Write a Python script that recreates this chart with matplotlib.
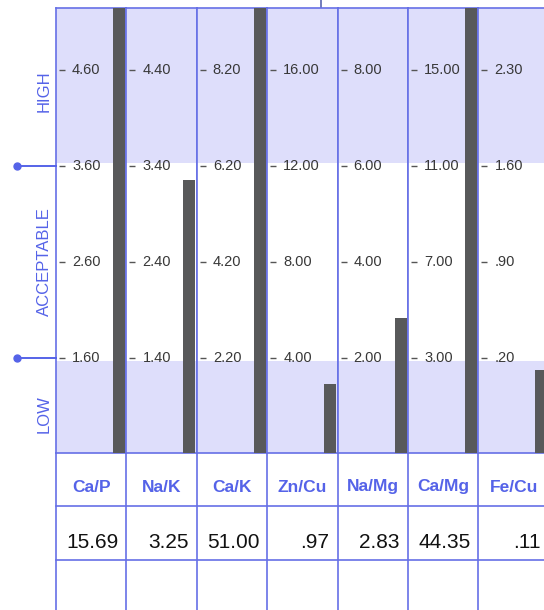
import matplotlib
matplotlib.use('Agg')
import matplotlib.pyplot as plt

# ---- data ----
ratios = ['Ca/P', 'Na/K', 'Ca/K', 'Zn/Cu', 'Na/Mg', 'Ca/Mg', 'Fe/Cu']
value_text = ['15.69', '3.25', '51.00', '.97', '2.83', '44.35', '.11']
bar_values = [15.69, 3.25, 51.00, 2.92, 2.83, 44.35, 0.11]
tick_values = [
    [1.60, 2.60, 3.60, 4.60],
    [1.40, 2.40, 3.40, 4.40],
    [2.20, 4.20, 6.20, 8.20],
    [4.00, 8.00, 12.00, 16.00],
    [2.00, 4.00, 6.00, 8.00],
    [3.00, 7.00, 11.00, 15.00],
    [0.20, 0.90, 1.60, 2.30],
]
tick_labels = [
    ['1.60', '2.60', '3.60', '4.60'],
    ['1.40', '2.40', '3.40', '4.40'],
    ['2.20', '4.20', '6.20', '8.20'],
    ['4.00', '8.00', '12.00', '16.00'],
    ['2.00', '4.00', '6.00', '8.00'],
    ['3.00', '7.00', '11.00', '15.00'],
    ['.20', '.90', '1.60', '2.30'],
]
zone_names = ['HIGH', 'ACCEPTABLE', 'LOW']

# ---- style / layout ----
plt.rcParams['font.family'] = ['Liberation Sans', 'DejaVu Sans']
W, H = 544, 610
BLUE = '#6670e6'
TXTBLUE = '#5563e8'
BAND = '#dedefb'
BAR = '#58595a'
left0, top, bottom = 56.0, 8.0, 453.0
cw = 70.4
tick0_px, step_px, tick3_px = 358.0, 96.0, 70.0

fig = plt.figure(figsize=(W / 100, H / 100), dpi=100)
fig.patch.set_facecolor('white')

ov = fig.add_axes([0, 0, 1, 1], zorder=0)
ov.set_xlim(0, W)
ov.set_ylim(H, 0)
ov.axis('off')
ov.patch.set_alpha(0)

axes = []
for k in range(len(ratios)):
    x0 = left0 + k * cw
    ax = fig.add_axes([x0 / W, 1 - bottom / H, cw / W, (bottom - top) / H], zorder=1)
    t = tick_values[k]
    step = t[1] - t[0]
    ymin = t[0] - (bottom - tick0_px) / step_px * step
    ymax = t[3] + (tick3_px - top) / step_px * step
    ax.set_xlim(0, 1)
    ax.set_ylim(ymin, ymax)
    ax.axhspan(t[2] + 0.03 * step, ymax, color=BAND, lw=0, zorder=0)
    ax.axhspan(ymin, t[0] - 0.03 * step, color=BAND, lw=0, zorder=0)
    ax.bar([0.895], [bar_values[k] - ymin], bottom=ymin, width=0.17,
           color=BAR, zorder=3)
    ax.hlines(t, 3 / cw, 9 / cw, transform=ax.get_yaxis_transform(),
              color='#555555', lw=1.0, zorder=4)
    for tv, tl in zip(t, tick_labels[k]):
        ax.text(16 / cw, tv, tl, transform=ax.get_yaxis_transform(),
                ha='left', va='center', fontsize=10.5, color='#383838', zorder=4)
    ax.set_xticks([])
    ax.set_yticks([])
    for s in ax.spines.values():
        s.set_color(BLUE)
        s.set_linewidth(1.2)
    axes.append(ax)

# left zone markers
a0 = axes[0]
for tv in (tick_values[0][0], tick_values[0][2]):
    a0.plot([(17 - left0) / cw, 0], [tv, tv], transform=a0.get_yaxis_transform(),
            color=TXTBLUE, lw=1.4, clip_on=False, zorder=5)
    a0.plot([(17 - left0) / cw], [tv], transform=a0.get_yaxis_transform(),
            marker='o', ms=5, color=TXTBLUE, clip_on=False, zorder=5)

for name, yc in zip(zone_names, [91, 262, 414]):
    ov.text(44, yc, name, rotation=90, ha='center', va='center',
            fontsize=12, color=TXTBLUE)

# top stub
ov.plot([321, 321], [0, top], color='#5a66b0', lw=1.2)

# table
right = left0 + len(ratios) * cw
for yy in (506, 560):
    ov.plot([left0, right], [yy, yy], color=BLUE, lw=1.2)
for k in range(len(ratios) + 1):
    xx = left0 + k * cw
    ov.plot([xx, xx], [bottom, H + 5], color=BLUE, lw=1.2)
for k, (r, v) in enumerate(zip(ratios, value_text)):
    x0 = left0 + k * cw
    ov.text(x0 + cw / 2, 487, r, ha='center', va='center', fontsize=12.5,
            fontweight='bold', color=TXTBLUE)
    ov.text(x0 + cw - 8, 542, v, ha='right', va='center', fontsize=15,
            color='#111111')

fig.savefig('out.png', dpi=100, facecolor='white')
